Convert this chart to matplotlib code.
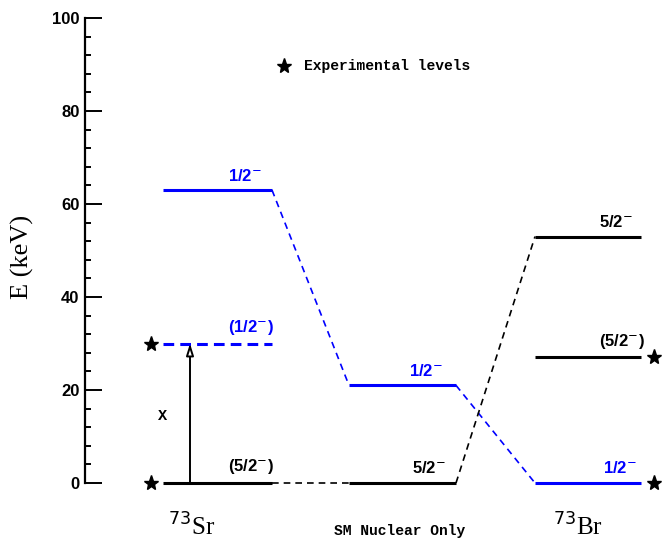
import matplotlib.pyplot as plt
import numpy as np

#%% data
# level energies (keV) for each column: 0 = 73Sr, 1 = SM nuclear only, 2 = 73Br
level_col = [0, 0, 0, 1, 1, 2, 2, 2]
level_E = [63, 30, 0, 21, 0, 53, 27, 0]
level_lbl = ["1/2$^{-}$", "(1/2$^{-}$)", "(5/2$^{-}$)", "1/2$^{-}$",
             "5/2$^{-}$", "5/2$^{-}$", "(5/2$^{-}$)", "1/2$^{-}$"]
level_blue = [True, True, False, True, False, False, False, True]
level_dashed = [False, True, False, False, False, False, False, False]

# dashed connectors between levels (index pairs)
links = [(0, 3), (2, 4), (3, 7), (4, 5)]

# experimentally known levels, marked with a star
exp_levels = [1, 2, 6, 7]

col_names = [r"$^{73}$Sr", "SM Nuclear Only", r"$^{73}$Br"]
arrow_E = (0, 30)

#%% layout
col_x = [(0.78, 1.87), (2.64, 3.71), (4.50, 5.56)]
lbl_x = [1.60, 1.66, 1.66, 3.41, 3.44, 5.31, 5.37, 5.35]
star_x = [0.66, 5.69]
blue = "#0000ff"

fig = plt.figure(figsize=(6.63, 5.42), dpi=100)
ax = fig.add_axes([85/663, 59/542, 578/663, 465/542])
ax.set_xlim(0, 5.78)
ax.set_ylim(0, 100)

for i in range(len(level_E)):
    x0, x1 = col_x[level_col[i]]
    c = blue if level_blue[i] else "black"
    ls = (0, (3.5, 2)) if level_dashed[i] else "-"
    ax.plot([x0, x1], [level_E[i], level_E[i]], color=c, lw=2.2, ls=ls,
            clip_on=False, solid_capstyle="butt", zorder=3)
    ax.text(lbl_x[i], level_E[i] + 1.4, level_lbl[i], color=c, ha="center",
            va="bottom", fontsize=12, weight="bold", family="Liberation Sans")

for a, b in links:
    c = blue if level_blue[a] else "black"
    xa = col_x[level_col[a]][1]
    xb = col_x[level_col[b]][0]
    ax.plot([xa, xb], [level_E[a], level_E[b]], color=c, lw=1.2,
            ls=(0, (4, 3)), clip_on=False, zorder=2)

for i in exp_levels:
    sx = star_x[0] if level_col[i] == 0 else star_x[1]
    ax.plot(sx, level_E[i], marker="*", color="black", ms=11, clip_on=False,
            ls="none")

# transition arrow
ax.annotate("", xy=(1.05, arrow_E[1]), xytext=(1.05, arrow_E[0]),
            arrowprops=dict(arrowstyle="-|>,head_length=0.7,head_width=0.22",
                            fc="white", ec="black", lw=1.4,
                            shrinkA=0, shrinkB=0))
ax.text(0.78, 14.5, "X", fontsize=11, family="Liberation Mono",
        weight="bold", ha="center", va="center")

# legend
ax.plot(1.99, 89.7, marker="*", color="black", ms=11, ls="none")
ax.text(2.19, 89.7, "Experimental levels", fontsize=10.5,
        family="Liberation Mono", weight="bold", va="center")

# column names
ax.text(1.07, -9.5, col_names[0], fontsize=18, family="Liberation Serif",
        ha="center", va="center", clip_on=False)
ax.text(3.15, -10.3, col_names[1], fontsize=10.5, family="Liberation Mono",
        weight="bold", ha="center", va="center", clip_on=False)
ax.text(4.93, -9.5, col_names[2], fontsize=18, family="Liberation Serif",
        ha="center", va="center", clip_on=False)

fig.text(22/663, 1 - 257/542, "E (keV)", rotation=90, fontsize=19,
         family="Liberation Serif", ha="center", va="center")

for s in ["top", "right", "bottom"]:
    ax.spines[s].set_visible(False)
ax.spines["left"].set_linewidth(1.6)
ax.set_xticks([])
ax.set_yticks(np.arange(0, 101, 20))
ax.set_yticks(np.arange(0, 101, 4), minor=True)
ax.tick_params(axis="y", which="major", direction="in", length=12, width=1.4,
               labelsize=12, pad=4)
ax.tick_params(axis="y", which="minor", direction="in", length=4.5, width=1.4)
for t in ax.get_yticklabels():
    t.set_fontweight("bold")
    t.set_family("Liberation Sans")

fig.savefig("out.png", dpi=100)
